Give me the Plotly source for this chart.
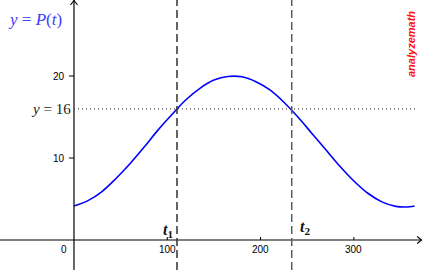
import plotly.graph_objects as go

# ---- data ----
t_days = [0, 15, 30, 45, 60, 75, 90, 105, 120, 135, 150, 165, 180, 195,
          210, 225, 240, 255, 270, 285, 300, 315, 330, 345, 360, 365]
p_vals = [4.15, 4.8, 5.9, 7.5, 9.3, 11.3, 13.4, 15.3, 17.1, 18.5, 19.5, 19.95, 19.9, 19.3,
          18.3, 16.8, 15.0, 13.0, 11.0, 9.0, 7.2, 5.7, 4.65, 4.1, 4.05, 4.15]
x_ticks = [100, 200, 300]
y_ticks = [10, 20]
level = 16
t_cross = [110.4, 233.4]
t_labels = ["<b><i>t</i><sub>1</sub></b>", "<b><i>t</i><sub>2</sub></b>"]

X_RANGE = [-79.3, 374.1]
Y_RANGE = [-3.66, 29.27]

fig = go.Figure()
fig.add_trace(go.Scatter(x=t_days, y=p_vals, mode="lines", line_shape="spline",
                         line=dict(color="#0000ff", width=1.6), hoverinfo="skip"))

shapes = []
ann = []
# axes
shapes.append(dict(type="line", xref="x", yref="y", x0=0, x1=0, y0=Y_RANGE[0], y1=Y_RANGE[1],
                   line=dict(color="black", width=1.2)))
shapes.append(dict(type="line", xref="x", yref="y", x0=X_RANGE[0], x1=X_RANGE[1] - 1.5, y0=0, y1=0,
                   line=dict(color="black", width=1.2)))
# arrow heads (pixel-sized, anchored at data points)
shapes.append(dict(type="path", xref="x", yref="y", xsizemode="pixel", ysizemode="pixel",
                   xanchor=0, yanchor=Y_RANGE[1], path="M -3.5,-5 L 0,-0.5 L 3.5,-5",
                   line=dict(color="black", width=1.1)))
shapes.append(dict(type="path", xref="x", yref="y", xsizemode="pixel", ysizemode="pixel",
                   xanchor=X_RANGE[1] - 1.5, yanchor=0, path="M -4.5,3.5 L 0,0 L -4.5,-3.5",
                   line=dict(color="black", width=1.1)))
# x ticks & labels
for v in x_ticks:
    shapes.append(dict(type="line", xref="x", yref="y", xsizemode="pixel", ysizemode="pixel",
                       xanchor=v, yanchor=0, x0=0, x1=0, y0=0, y1=3,
                       line=dict(color="black", width=1)))
    ann.append(dict(x=v, y=0, xref="x", yref="y", text=str(v), showarrow=False,
                    yshift=-10, font=dict(family="Liberation Sans, Arial", size=10, color="black")))
ann.append(dict(x=0, y=0, xref="x", yref="y", text="0", showarrow=False,
                xshift=-10, yshift=-10, font=dict(family="Liberation Sans, Arial", size=10, color="black")))
# y ticks & labels
for v in y_ticks:
    shapes.append(dict(type="line", xref="x", yref="y", xsizemode="pixel", ysizemode="pixel",
                       xanchor=0, yanchor=v, x0=-5, x1=0, y0=0, y1=0,
                       line=dict(color="black", width=1)))
    ann.append(dict(x=0, y=v, xref="x", yref="y", text=str(v), showarrow=False,
                    xanchor="right", xshift=-7, font=dict(family="Liberation Sans, Arial", size=10, color="black")))
# level line y = 16
shapes.append(dict(type="line", xref="x", yref="y", x0=0, x1=366, y0=level, y1=level,
                   line=dict(color="#4a3a4a", width=1.2, dash="1px,3px")))
ann.append(dict(x=0, y=level, xref="x", yref="y", text=f"<i>y</i> = {level}", showarrow=False,
                xanchor="right", xshift=-1,
                font=dict(family="Liberation Serif, Times New Roman", size=15, color="#222")))
# dashed verticals
for tc, lab, col, dx, dy in zip(t_cross, t_labels, ["#333333", "#5a5a5a"], [-9, 13], [9, 12]):
    shapes.append(dict(type="line", xref="x", yref="y", x0=tc, x1=tc, y0=Y_RANGE[0], y1=Y_RANGE[1],
                       line=dict(color=col, width=1.5, dash="8px,4px")))
    ann.append(dict(x=tc, y=0, xref="x", yref="y", text=lab, showarrow=False,
                    xshift=dx, yshift=dy,
                    font=dict(family="Liberation Serif, Times New Roman", size=16, color="#111")))
# function label
ann.append(dict(x=6 / 423, y=1 - 19 / 270, xref="paper", yref="paper", xanchor="left", yanchor="middle",
                text="<i>y</i> = <i>P</i>(<i>t</i>)", showarrow=False,
                font=dict(family="Liberation Serif, Times New Roman", size=17, color="#3c3cff")))
# watermark
ann.append(dict(x=411 / 423, y=1 - 44 / 270, xref="paper", yref="paper", xanchor="center", yanchor="middle",
                text="<b><i>analyzemath</i></b>", showarrow=False, textangle=-90,
                font=dict(family="Liberation Sans, Arial", size=11, color="#ff1010")))

fig.update_layout(
    width=423, height=270, margin=dict(l=0, r=0, t=0, b=0),
    paper_bgcolor="white", plot_bgcolor="white", showlegend=False,
    xaxis=dict(range=X_RANGE, visible=False, fixedrange=True),
    yaxis=dict(range=Y_RANGE, visible=False, fixedrange=True),
    shapes=shapes, annotations=ann,
)
fig.write_html("out.html", config={"displayModeBar": False})
